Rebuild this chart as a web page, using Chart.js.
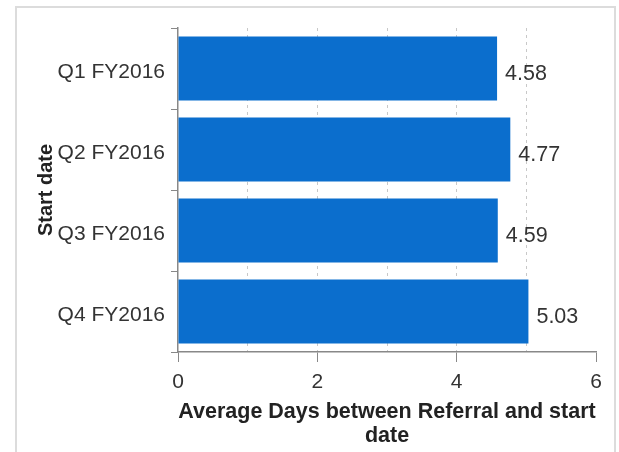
<!doctype html>
<html>
  <head>
    <script src="https://cdn.jsdelivr.net/npm/chart.js@4/dist/chart.umd.min.js"></script>
    <style>
      body { margin: 0; background: #fff; }
    </style>
    <script>
      // data
      let categories = ['Q1 FY2016', 'Q2 FY2016', 'Q3 FY2016', 'Q4 FY2016'];
      let avgDays = [4.58, 4.77, 4.59, 5.03];
      let xTickLabels = ['0', '', '2', '', '4', '', '6'];

      let fontFamily = '"Liberation Sans", Arial, sans-serif';

      // light grey frame round the whole picture
      let framePlugin = {
        id: 'frame',
        beforeDraw(chart) {
          let ctx = chart.ctx;
          ctx.save();
          ctx.fillStyle = '#fff';
          ctx.fillRect(0, 0, chart.width, chart.height);
          ctx.strokeStyle = '#dcdcdc';
          ctx.lineWidth = 2;
          ctx.strokeRect(16, 7, 599, 460);
          ctx.restore();
        }
      };

      // value text to the right of each bar
      let valueLabels = {
        id: 'valueLabels',
        afterDatasetsDraw(chart) {
          let ctx = chart.ctx;
          let meta = chart.getDatasetMeta(0);
          ctx.save();
          ctx.font = '21.5px ' + fontFamily;
          ctx.fillStyle = '#333';
          ctx.textAlign = 'left';
          ctx.textBaseline = 'middle';
          meta.data.forEach(function(bar, i) {
            ctx.fillText(avgDays[i].toFixed(2), bar.x + 8, bar.y + 6);
          });
          ctx.restore();
        }
      };

      function startPage() {
        new Chart(document.getElementById('c1'), {
          type: 'bar',
          data: {
            labels: categories,
            datasets: [{
              data: avgDays,
              backgroundColor: '#0b6ecd',
              borderWidth: 0,
              barPercentage: 0.79,
              categoryPercentage: 1
            }]
          },
          options: {
            indexAxis: 'y',
            responsive: false,
            animation: false,
            layout: { padding: { top: 28, right: 23, bottom: 0, left: 0 } },
            plugins: {
              legend: { display: false },
              tooltip: { enabled: false }
            },
            scales: {
              x: {
                min: 0,
                max: 6,
                afterFit(scale) { scale.height = 100; },
                ticks: {
                  stepSize: 1,
                  autoSkip: false,
                  maxRotation: 0,
                  padding: 8,
                  color: '#333',
                  font: { family: fontFamily, size: 21 },
                  callback: function(value, index) { return xTickLabels[index]; }
                },
                grid: {
                  color: function(c) {
                    return (c.tick && (c.tick.value === 0 || c.tick.value === 6)) ? 'rgba(0,0,0,0)' : '#c8c8c8';
                  },
                  tickColor: function(c) {
                    return (c.tick && c.tick.value % 2 === 0) ? '#888' : 'rgba(0,0,0,0)';
                  },
                  tickLength: 10
                },
                border: { color: '#888', width: 1.5, dash: [3, 4] },
                title: {
                  display: true,
                  text: ['Average Days between Referral and start', 'date'],
                  color: '#222',
                  font: { family: fontFamily, size: 21.5, weight: 'bold', lineHeight: 1.16 },
                  padding: { top: 0, bottom: 3 }
                }
              },
              y: {
                afterFit(scale) { scale.width = 178; },
                ticks: {
                  padding: 6,
                  labelOffset: 4,
                  color: '#333',
                  font: { family: fontFamily, size: 21 }
                },
                grid: {
                  drawOnChartArea: false,
                  tickLength: 7,
                  tickColor: '#888',
                  offset: true
                },
                border: { color: '#888', width: 1.5 },
                title: {
                  display: true,
                  text: 'Start date',
                  color: '#222',
                  font: { family: fontFamily, size: 20, weight: 'bold' },
                  padding: { top: 34, bottom: 0 }
                }
              }
            }
          },
          plugins: [framePlugin, valueLabels]
        });
      }
    </script>
  </head>
  <body onload="startPage()">
    <canvas id="c1" width="619" height="452"></canvas>
  </body>
</html>
